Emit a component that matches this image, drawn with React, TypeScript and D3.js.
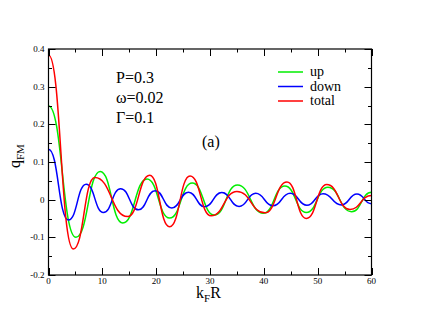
import React, { useEffect, useRef } from "react";
import * as d3 from "d3";

// extrema: [kF R, q_FM]
const upData: [number, number][] = [
  [0, 0.249], [5.1, -0.1], [9.6, 0.075], [13.8, -0.062], [18.3, 0.055],
  [22.5, -0.049], [26.7, 0.044], [30.8, -0.041], [35.1, 0.039], [39.9, -0.036],
  [43.9, 0.036], [47.9, -0.034], [51.9, 0.033], [56.3, -0.032], [60, 0.02],
];
const downData: [number, number][] = [
  [0, 0.134], [3.7, -0.054], [7.0, 0.041], [10.2, -0.034], [13.4, 0.029],
  [16.7, -0.027], [19.8, 0.024], [22.9, -0.022], [26.0, 0.02], [29.0, -0.019],
  [32.2, 0.019], [35.4, -0.018], [38.5, 0.017], [41.7, -0.016], [44.9, 0.017],
  [48.0, -0.015], [51.0, 0.016], [54.4, -0.014], [57.3, 0.015], [60, -0.011],
];
const totalData: [number, number][] = [
  [0, 0.384], [4.6, -0.131], [8.6, 0.059], [14.7, -0.045], [18.8, 0.065],
  [22.5, -0.072], [26.3, 0.063], [30.2, -0.043], [35.0, 0.022], [40.2, -0.035],
  [44.3, 0.047], [47.9, -0.05], [51.7, 0.04], [56.0, -0.026], [60, 0.011],
];

const xTicks = [0, 10, 20, 30, 40, 50, 60];
const yTicks = [-0.2, -0.1, 0, 0.1, 0.2, 0.3, 0.4];
const seriesNames = ["up", "down", "total"];
const seriesColors = ["#00ee00", "#0000ff", "#ff0000"];
const params = ["P=0.3", "\u03c9=0.02", "\u0393=0.1"];

const App = () => {
  const svgRef = useRef<SVGSVGElement>(null);

  useEffect(() => {
    const w = 430;
    const h = 332;
    const left = 48.5;
    const right = 371.5;
    const top = 49;
    const bottom = 275;

    const svg = d3
      .select(svgRef.current)
      .attr("width", w)
      .attr("height", h)
      .style("font-family", "'Liberation Serif', 'DejaVu Serif', serif");
    svg.selectAll("*").remove();
    svg.append("rect").attr("width", w).attr("height", h).attr("fill", "white");

    const x = d3.scaleLinear().domain([0, 60]).range([left, right]);
    const y = d3.scaleLinear().domain([-0.2, 0.4]).range([bottom, top]);

    // curves
    const line = d3
      .line<[number, number]>()
      .x((d) => x(d[0]))
      .y((d) => y(d[1]))
      .curve(d3.curveBumpX);

    const all = [upData, downData, totalData];
    all.forEach((data, i) => {
      svg
        .append("path")
        .attr("d", line(data))
        .attr("fill", "none")
        .attr("stroke", seriesColors[i])
        .attr("stroke-width", 1.5);
    });

    // ticks on all four sides, pointing inward
    const g = svg.append("g").attr("stroke", "black").attr("stroke-width", 1);
    d3.range(0, 61, 5).forEach((v) => {
      const len = v % 10 === 0 ? 7 : 3.5;
      const px = Math.round(x(v)) + 0.5;
      g.append("line").attr("x1", px).attr("x2", px).attr("y1", bottom).attr("y2", bottom - len);
      g.append("line").attr("x1", px).attr("x2", px).attr("y1", top).attr("y2", top + len);
    });
    d3.range(-4, 9).forEach((k) => {
      const v = k * 0.05;
      const len = k % 2 === 0 ? 7 : 3.5;
      const py = Math.round(y(v)) + 0.5;
      g.append("line").attr("x1", left).attr("x2", left + len).attr("y1", py).attr("y2", py);
      g.append("line").attr("x1", right).attr("x2", right - len).attr("y1", py).attr("y2", py);
    });
    svg
      .append("rect")
      .attr("x", left)
      .attr("y", top)
      .attr("width", right - left)
      .attr("height", bottom - top)
      .attr("fill", "none")
      .attr("stroke", "black")
      .attr("stroke-width", 1.2);

    // tick labels
    svg
      .selectAll(".xt")
      .data(xTicks)
      .join("text")
      .attr("x", (d) => x(d))
      .attr("y", bottom + 9)
      .attr("text-anchor", "middle")
      .attr("font-size", 9)
      .text((d) => d);
    svg
      .selectAll(".yt")
      .data(yTicks)
      .join("text")
      .attr("x", left - 4)
      .attr("y", (d) => y(d) + 3)
      .attr("text-anchor", "end")
      .attr("font-size", 9)
      .text((d) => d);

    // axis titles
    const xl = svg.append("text").attr("x", 196).attr("y", 298).attr("font-size", 16);
    xl.append("tspan").text("k");
    xl.append("tspan").attr("font-size", 11).attr("dy", 4).text("F");
    xl.append("tspan").attr("dy", -4).text("R");

    const yl = svg
      .append("text")
      .attr("transform", "translate(20,168) rotate(-90)")
      .attr("font-size", 16);
    yl.append("tspan").text("q");
    yl.append("tspan").attr("font-size", 11).attr("dy", 4).text("FM");

    // parameters
    params.forEach((p, i) => {
      svg
        .append("text")
        .attr("x", 116)
        .attr("y", 83 + i * 20)
        .attr("font-size", 16)
        .text(p);
    });
    svg.append("text").attr("x", 202).attr("y", 147).attr("font-size", 16).text("(a)");

    // legend
    seriesNames.forEach((name, i) => {
      const ly = 72 + i * 14.5;
      svg
        .append("line")
        .attr("x1", 278)
        .attr("x2", 303)
        .attr("y1", ly)
        .attr("y2", ly)
        .attr("stroke", seriesColors[i])
        .attr("stroke-width", 1.5);
      svg
        .append("text")
        .attr("x", 310)
        .attr("y", ly + 4)
        .attr("font-size", 14)
        .text(name);
    });
  }, []);

  return (
    <div style={{ position: "absolute", left: 0, top: 0 }}>
      <svg ref={svgRef} style={{ display: "block" }}></svg>
    </div>
  );
};

export default App;
